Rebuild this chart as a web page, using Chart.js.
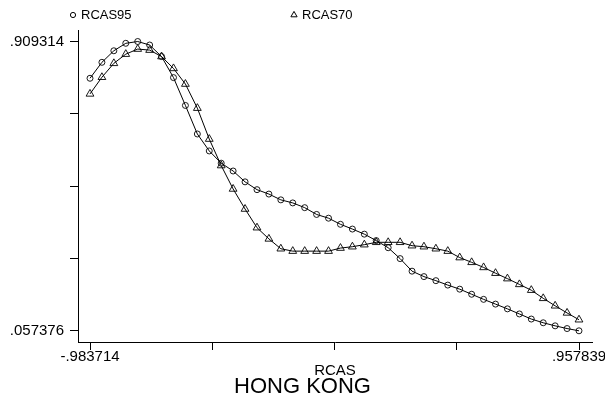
<!DOCTYPE html>
<html>
<head>
<meta charset="utf-8">
<script src="https://cdn.jsdelivr.net/npm/chart.js@4.4.1/dist/chart.umd.min.js"></script>
<style>
  html, body { margin: 0; padding: 0; background: #fff; }
  #wrap { width: 605px; height: 401px; }
</style>
</head>
<body>
<div id="wrap"><canvas id="c" width="605" height="401"></canvas></div>
<script>
// Evaluation grid of RCAS
const rcasGrid = [
  -0.9837, -0.9364, -0.8890, -0.8417, -0.7943, -0.7469, -0.6996, -0.6522,
  -0.6049, -0.5575, -0.5102, -0.4628, -0.4155, -0.3681, -0.3207, -0.2734,
  -0.2260, -0.1787, -0.1313, -0.0840, -0.0366,  0.0107,  0.0581,  0.1055,
   0.1528,  0.2002,  0.2475,  0.2949,  0.3422,  0.3896,  0.4369,  0.4843,
   0.5316,  0.5790,  0.6264,  0.6737,  0.7211,  0.7684,  0.8158,  0.8631,
   0.9105,  0.9578
];

const rcas95 = [
  0.801, 0.848, 0.882, 0.904, 0.909314, 0.899, 0.865, 0.803,
  0.721, 0.637, 0.587, 0.551, 0.528, 0.496, 0.473, 0.460,
  0.443, 0.434, 0.420, 0.400, 0.389, 0.371, 0.357, 0.342,
  0.323, 0.302, 0.270, 0.233, 0.217, 0.205, 0.192, 0.180,
  0.165, 0.150, 0.136, 0.122, 0.107, 0.092, 0.081, 0.072,
  0.064, 0.057376
];

const rcas70 = [
  0.755, 0.804, 0.845, 0.872, 0.887, 0.884, 0.865, 0.830,
  0.784, 0.713, 0.622, 0.544, 0.475, 0.416, 0.361, 0.328,
  0.299, 0.292, 0.292, 0.292, 0.292, 0.301, 0.305, 0.311,
  0.318, 0.318, 0.318, 0.308, 0.305, 0.299, 0.292, 0.273,
  0.259, 0.244, 0.227, 0.211, 0.194, 0.177, 0.153, 0.131,
  0.110, 0.090
];

const seriesNames = ['RCAS95', 'RCAS70'];
const seriesStyles = ['circle', 'triangle'];

// Axis ticks: five marks per axis, only the ends are labelled
const xTickValues = [-0.983714, -0.498326, -0.012938, 0.472451, 0.957839];
const xTickLabels = ['-.983714', '', '', '', '.957839'];
const yTickValues = [0.057376, 0.270360, 0.483345, 0.696329, 0.909314];
const yTickLabels = ['.057376', '', '', '', '.909314'];

const xTitle = 'RCAS';
const chartTitle = 'HONG KONG';

const FONT = "'Liberation Sans', Arial, Helvetica, sans-serif";
const INK = '#000';

// Axis lines run a little past the outer ticks
const xSpan = xTickValues[4] - xTickValues[0];
const ySpan = yTickValues[4] - yTickValues[0];
const xMin = xTickValues[0] - xSpan * 12 / 489;
const xMax = xTickValues[4] + xSpan * 13 / 489;
const yMin = yTickValues[0] - ySpan * 11.2 / 289.3;
const yMax = yTickValues[4] + ySpan * 11.5 / 289.3;

function toPoints(ys) {
  return rcasGrid.map((x, i) => ({ x: x, y: ys[i] }));
}

const datasets = [rcas95, rcas70].map((ys, k) => ({
  label: seriesNames[k],
  data: toPoints(ys),
  showLine: true,
  tension: 0,
  borderColor: INK,
  borderWidth: 1,
  pointStyle: seriesStyles[k],
  pointRadius: k === 0 ? 3 : 4.5,
  pointBorderWidth: 0.9,
  pointBorderColor: INK,
  pointBackgroundColor: 'rgba(0,0,0,0)'
}));

// Legend row across the top, hollow markers like the plotted ones
const legendRow = {
  id: 'legendRow',
  afterDraw(chart) {
    const ctx = chart.ctx;
    const spots = [73, 294];
    ctx.save();
    chart.data.datasets.forEach((ds, i) => {
      const cx = spots[i];
      const cy = 15;
      ctx.strokeStyle = INK;
      ctx.fillStyle = 'rgba(0,0,0,0)';
      Chart.helpers.drawPoint(ctx, {
        pointStyle: ds.pointStyle,
        radius: i === 0 ? 2.6 : 3.6,
        borderWidth: 0.9
      }, cx, cy);
      ctx.font = '13px ' + FONT;
      ctx.fillStyle = INK;
      ctx.textBaseline = 'middle';
      ctx.textAlign = 'left';
      ctx.fillText(ds.label, cx + 8, cy + 0.5);
    });
    ctx.restore();
  }
};

// Fixed axis boxes so the plot area sits at the same place every time
function pinX(scale) {
  scale.height = 38;
  scale.paddingLeft = 0;
  scale.paddingRight = 13;
}
function pinY(scale) {
  scale.width = 78;
  scale.paddingTop = 0;
  scale.paddingBottom = 0;
}

new Chart(document.getElementById('c'), {
  type: 'scatter',
  data: { datasets: datasets },
  plugins: [legendRow],
  options: {
    responsive: false,
    devicePixelRatio: 1,
    animation: false,
    layout: { padding: { top: 30, right: 0, bottom: 0, left: 0 } },
    plugins: {
      legend: { display: false },
      tooltip: { enabled: false },
      title: {
        display: true,
        text: chartTitle,
        position: 'bottom',
        color: INK,
        font: { family: FONT, size: 22, weight: 'normal', lineHeight: 1.1 },
        padding: { top: -5, bottom: 1.8 }
      }
    },
    scales: {
      x: {
        type: 'linear',
        min: xMin,
        max: xMax,
        afterBuildTicks(scale) { scale.ticks = xTickValues.map(v => ({ value: v })); },
        afterFit: pinX,
        border: { display: true, color: INK, width: 1 },
        grid: { display: true, drawOnChartArea: false, drawTicks: true, tickLength: 8, color: INK, lineWidth: 1 },
        ticks: {
          autoSkip: false,
          maxRotation: 0,
          padding: -2,
          color: INK,
          font: { family: FONT, size: 15, lineHeight: 1.2 },
          callback: (v, i) => xTickLabels[i]
        },
        title: {
          display: true,
          text: xTitle,
          color: INK,
          font: { family: FONT, size: 15, lineHeight: 1.2 },
          padding: { top: 0, bottom: 0 }
        }
      },
      y: {
        type: 'linear',
        min: yMin,
        max: yMax,
        afterBuildTicks(scale) { scale.ticks = yTickValues.map(v => ({ value: v })); },
        afterFit: pinY,
        border: { display: true, color: INK, width: 1 },
        grid: { display: true, drawOnChartArea: false, drawTicks: true, tickLength: 8, color: INK, lineWidth: 1 },
        ticks: {
          autoSkip: false,
          padding: 6,
          color: INK,
          font: { family: FONT, size: 15 },
          callback: (v, i) => yTickLabels[i]
        }
      }
    }
  }
});
</script>
</body>
</html>
